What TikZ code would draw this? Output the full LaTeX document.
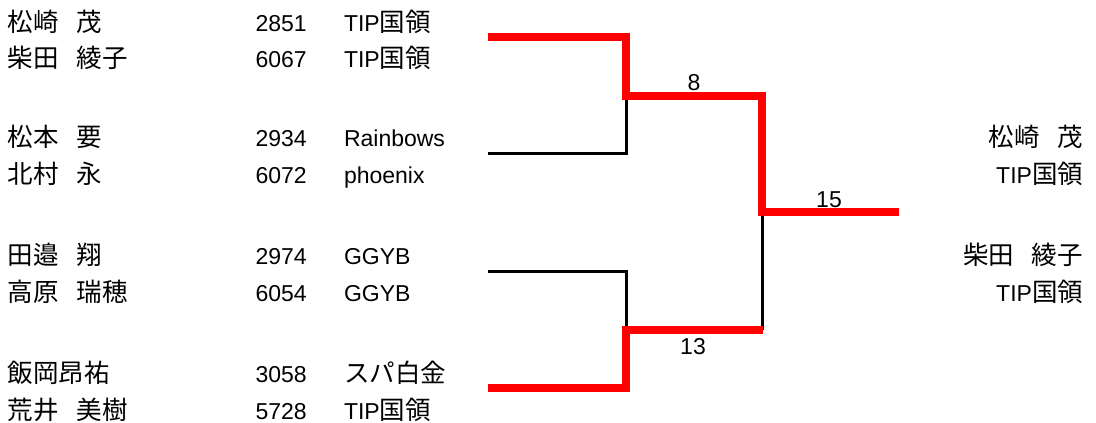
\documentclass[tikz,border=0pt]{standalone}
\usepackage{fontspec}
\setmainfont{Liberation Sans}
\newfontfamily\cjkf{Noto Sans CJK JP}
\newcommand\J[1]{{\fontsize{25.5}{27}\selectfont\cjkf #1}}
\newcommand\gp{\hspace{18pt}}
\tikzset{
  txt/.style={inner sep=0pt, outer sep=0pt, font=\fontsize{23}{26}\selectfont},
  lft/.style={txt, anchor=base west},
  rgt/.style={txt, anchor=base east},
  lbl/.style={txt, anchor=base},
  redline/.style={draw=red, line width=8.5pt, line cap=butt, line join=miter},
  blkline/.style={draw=black, line width=3pt, line cap=butt},
}
\begin{document}
\begin{tikzpicture}[x=1pt,y=-1pt]
\useasboundingbox[fill=white] (0,0) rectangle (1096,423);
% left column: names
\node[lft] (n1) at (8,31)  {\J{松崎\gp 茂}};
\node[lft] (n2) at (8,67)  {\J{柴田\gp 綾子}};
\node[lft] (n3) at (8,146) {\J{松本\gp 要}};
\node[lft] (n4) at (8,183) {\J{北村\gp 永}};
\node[lft] (n5) at (8,264) {\J{田邉\gp 翔}};
\node[lft] (n6) at (8,301) {\J{高原\gp 瑞穂}};
\node[lft] (n7) at (8,382) {\J{飯岡昂祐}};
\node[lft] (n8) at (8,419) {\J{荒井\gp 美樹}};
% numbers
\node[lft] (d1) at (255.5,31)  {2851};
\node[lft] (d2) at (255.5,67)  {6067};
\node[lft] (d3) at (255.5,146) {2934};
\node[lft] (d4) at (255.5,183) {6072};
\node[lft] (d5) at (255.5,264) {2974};
\node[lft] (d6) at (255.5,301) {6054};
\node[lft] (d7) at (255.5,382) {3058};
\node[lft] (d8) at (255.5,419) {5728};
% teams
\node[lft] (t1) at (344,31)  {TIP\J{国領}};
\node[lft] (t2) at (344,67)  {TIP\J{国領}};
\node[lft] (t3) at (344,146) {Rainbows};
\node[lft] (t4) at (344,183) {phoenix};
\node[lft] (t5) at (344,264) {GGYB};
\node[lft] (t6) at (344,301) {GGYB};
\node[lft] (t7) at (344,382) {\J{スパ白金}};
\node[lft] (t8) at (344,419) {TIP\J{国領}};
% right column: winners
\node[rgt] (w1) at (1083,146) {\J{松崎\gp 茂}};
\node[rgt] (w2) at (1083,183) {TIP\J{国領}};
\node[rgt] (w3) at (1083,264) {\J{柴田\gp 綾子}};
\node[rgt] (w4) at (1083,301) {TIP\J{国領}};
% bracket coordinates
\coordinate (p1) at (488,37);
\coordinate (p2) at (488,153);
\coordinate (p3) at (488,271);
\coordinate (p4) at (488,388);
\coordinate (m1) at (626,96);
\coordinate (m2) at (626,330);
\coordinate (m2r) at (763,330);
\coordinate (f) at (762,212);
\coordinate (w) at (899,212);
% black (losing) lines
\draw[blkline] (p2) -| (m1);
\draw[blkline] (p3) -| (m2);
\draw[blkline] (m2r -| f) -- (f);
% red (winning) lines
\draw[redline] (p1) -| (m1) -| (f) -- (w);
\draw[redline] (p4) -| (m2) -- (m2r);
% score labels
\node[lbl] (s1) at (694,90)  {8};
\node[lbl] (s2) at (829,207) {15};
\node[lbl] (s3) at (693,354) {13};
\end{tikzpicture}
\end{document}
